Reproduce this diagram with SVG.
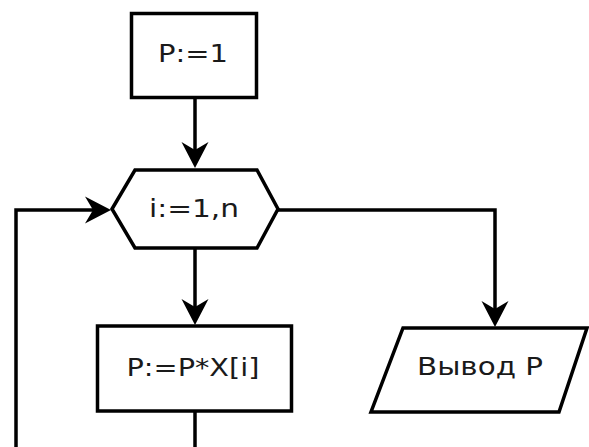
<svg xmlns="http://www.w3.org/2000/svg" width="589" height="447" viewBox="0 0 589 447">
<style>
.shape{fill:#fff;stroke:#000;stroke-width:3.5}
.edge{fill:none;stroke:#000;stroke-width:3.5}
.lbl{font-family:"DejaVu Sans","Liberation Sans",sans-serif;font-size:24px;fill:#1a1a1a;text-anchor:middle}
</style>
<defs>
<marker id="arr" markerUnits="userSpaceOnUse" viewBox="-28 -15 30 30" refX="-10" refY="0" markerWidth="30" markerHeight="30" orient="auto">
<path d="M0,0 L-26,-13.5 L-18,0 L-26,13.5 Z" fill="#000"/>
</marker>
</defs>
<rect width="589" height="447" fill="#fff"/>
<g id="edges">
<path class="edge" d="M195,98 V158" marker-end="url(#arr)"/>
<path class="edge" d="M195,248 V315" marker-end="url(#arr)"/>
<path class="edge" d="M195,411 V447"/>
<path class="edge" d="M16,447 V210 H101" marker-end="url(#arr)"/>
<path class="edge" d="M278,210 H495 V317" marker-end="url(#arr)"/>
</g>
<g id="n_init">
<rect class="shape" x="131.5" y="13.5" width="125" height="84"/>
<text class="lbl" x="193" y="62" textLength="70" lengthAdjust="spacingAndGlyphs">P:=1</text>
</g>
<g id="n_loop">
<polygon class="shape" points="112,209 135,170 257,170 278,209 257,248 135,248"/>
<text class="lbl" x="194" y="217" textLength="90" lengthAdjust="spacingAndGlyphs">i:=1,n</text>
</g>
<g id="n_mult">
<rect class="shape" x="97.5" y="326" width="194" height="85"/>
<text class="lbl" x="193" y="376" textLength="133" lengthAdjust="spacingAndGlyphs">P:=P*X[i]</text>
</g>
<g id="n_out">
<polygon class="shape" points="403,328 587,328 559,412 371,412"/>
<text class="lbl" x="480" y="375" textLength="126" lengthAdjust="spacingAndGlyphs">Вывод P</text>
</g>
</svg>
